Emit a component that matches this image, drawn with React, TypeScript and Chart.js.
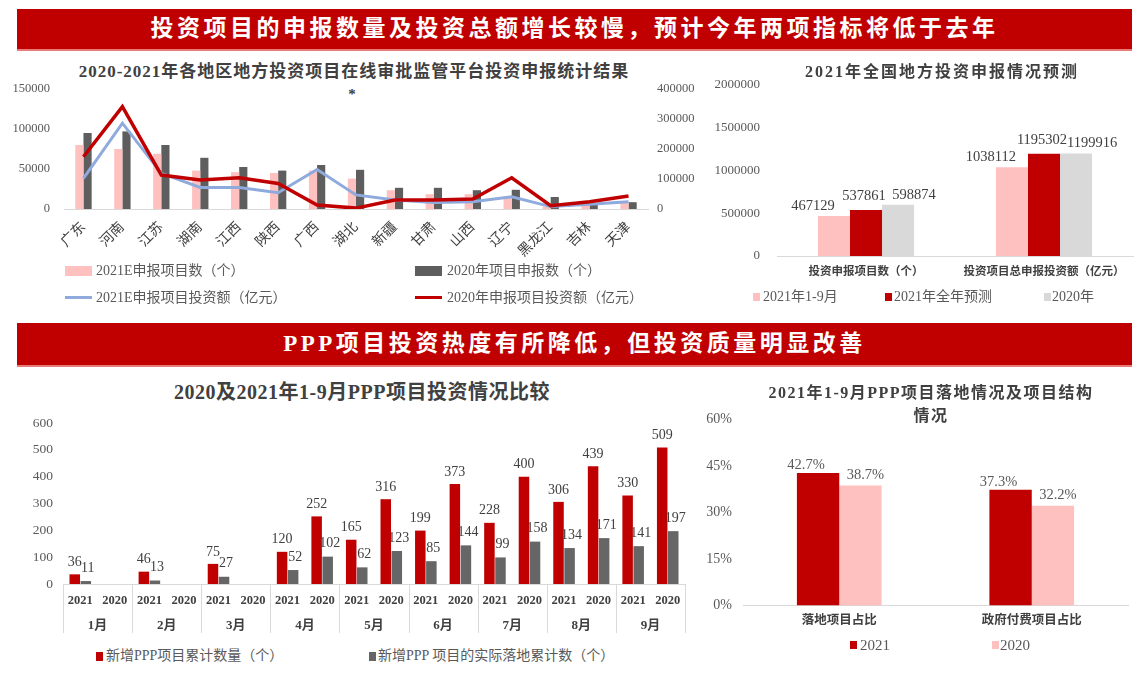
import React, { useEffect, useRef } from 'react';
import { Chart, registerables } from 'chart.js';

Chart.register(...registerables);

const FONT = "'Liberation Serif', 'DejaVu Serif', 'Noto Sans CJK SC', serif";

// ---------- Chart 1: 各地区投资申报 ----------
const REGIONS = ['广东', '河南', '江苏', '湖南', '江西', '陕西', '广西', '湖北', '新疆', '甘肃', '山西', '辽宁', '黑龙江', '吉林', '天津'];
const COUNT_2021E = [80000, 75000, 69000, 48000, 46000, 45000, 48000, 38000, 23500, 18500, 18500, 15500, 3000, 9000, 8000];
const COUNT_2020 = [95000, 97000, 80000, 64000, 52500, 48000, 55000, 49000, 26500, 26500, 23500, 24000, 15000, 6000, 8500];
const AMOUNT_2021E = [102000, 286000, 119000, 72000, 72000, 54000, 132000, 47000, 30000, 22000, 24000, 41000, 8000, 16000, 24000];
const AMOUNT_2020 = [174000, 341000, 113000, 97000, 104000, 85000, 13000, 3000, 30000, 30000, 33000, 104000, 11000, 24000, 43000];

// ---------- Chart 2: 2021年全国地方投资申报情况预测 ----------
const FORECAST_CATS = ['投资申报项目数（个）', '投资项目总申报投资额（亿元）'];
const F_2021_1_9 = [467129, 1038112];
const F_2021_FULL = [537861, 1195302];
const F_2020 = [598874, 1199916];

// ---------- Chart 3: PPP 项目投资情况比较 ----------
const MONTHS = ['1月', '2月', '3月', '4月', '5月', '6月', '7月', '8月', '9月'];
const YEAR_LABELS = ['2021', '2020'];
const PPP_NEW_2021 = [36, 46, 75, 120, 165, 199, 228, 306, 330];
const PPP_NEW_2020 = [null, null, null, 252, 316, 373, 400, 439, 509];
const PPP_LAND_2021 = [11, 13, 27, 52, 62, 85, 99, 134, 141];
const PPP_LAND_2020 = [null, null, null, 102, 123, 144, 158, 171, 197];

// ---------- Chart 4: PPP 项目落地及结构 ----------
const STRUCT_CATS = ['落地项目占比', '政府付费项目占比'];
const STRUCT_2021 = [42.7, 37.3];
const STRUCT_2020 = [38.7, 32.2];

const RED = '#C00000';
const PINK = '#FFC0C0';
const DARK = '#5E5E5E';
const LIGHT = '#D9D9D9';
const BLUE = '#8FAADC';
const TICK = '#595959';
const TEXT = '#404040';

type LabelCfg = { font: string; color: string; dx: number[]; dy: number[]; format: (v: number) => string };

function makeValueLabels(cfg: LabelCfg) {
  return {
    id: 'valueLabels',
    afterDatasetsDraw(chart: any) {
      const ctx = chart.ctx;
      ctx.save();
      ctx.font = cfg.font;
      ctx.fillStyle = cfg.color;
      ctx.textAlign = 'center';
      ctx.textBaseline = 'middle';
      chart.data.datasets.forEach((ds: any, di: number) => {
        const meta = chart.getDatasetMeta(di);
        meta.data.forEach((el: any, i: number) => {
          const v = ds.data[i];
          if (v === null || v === undefined) return;
          ctx.fillText(cfg.format(v), el.x + (cfg.dx[di] || 0), el.y - (cfg.dy[di] || 0));
        });
      });
      ctx.restore();
    },
  };
}

const monthAxisPlugin = {
  id: 'monthAxis',
  afterDraw(chart: any) {
    const xs = chart.scales.x;
    const ctx = chart.ctx;
    const step = xs.getPixelForValue(1) - xs.getPixelForValue(0);
    const top = xs.top;
    ctx.save();
    ctx.strokeStyle = '#D9D9D9';
    ctx.lineWidth = 1;
    ctx.font = `bold 13px ${FONT}`;
    ctx.fillStyle = TEXT;
    ctx.textAlign = 'center';
    ctx.textBaseline = 'middle';
    MONTHS.forEach((m, k) => {
      const a = xs.getPixelForValue(2 * k);
      const b = xs.getPixelForValue(2 * k + 1);
      const lx = Math.round(a - step / 2) + 0.5;
      ctx.beginPath();
      ctx.moveTo(lx, top);
      ctx.lineTo(lx, top + 49);
      ctx.stroke();
      ctx.fillText(m, (a + b) / 2, top + 42);
    });
    const last = Math.round(xs.getPixelForValue(2 * MONTHS.length - 1) + step / 2) + 0.5;
    ctx.beginPath();
    ctx.moveTo(last, top);
    ctx.lineTo(last, top + 49);
    ctx.stroke();
    ctx.restore();
  },
};

const noPlugins = { legend: { display: false }, tooltip: { enabled: false }, title: { display: false } };

function config1(): any {
  return {
    type: 'bar',
    data: {
      labels: REGIONS,
      datasets: [
        { type: 'line', label: '2020年申报项目投资额（亿元）', data: AMOUNT_2020, yAxisID: 'y1', borderColor: RED, borderWidth: 3.5, pointRadius: 0, tension: 0, order: 0 },
        { type: 'line', label: '2021E申报项目投资额（亿元）', data: AMOUNT_2021E, yAxisID: 'y1', borderColor: BLUE, borderWidth: 3, pointRadius: 0, tension: 0, order: 1 },
        { type: 'bar', label: '2021E申报项目数（个）', data: COUNT_2021E, yAxisID: 'y', backgroundColor: PINK, order: 2, categoryPercentage: 0.42, barPercentage: 1 },
        { type: 'bar', label: '2020年项目申报数（个）', data: COUNT_2020, yAxisID: 'y', backgroundColor: DARK, order: 2, categoryPercentage: 0.42, barPercentage: 1 },
      ],
    },
    options: {
      responsive: false,
      animation: false,
      layout: { padding: { top: 29, left: 0, right: 0, bottom: 0 } },
      plugins: noPlugins,
      scales: {
        x: {
          grid: { display: false, drawTicks: false },
          border: { display: true, color: '#D9D9D9' },
          ticks: { font: { size: 14, family: FONT }, color: TEXT, minRotation: 45, maxRotation: 45, autoSkip: false, padding: 10 },
          afterFit(s: any) { s.height = 101; },
        },
        y: {
          position: 'left', min: 0, max: 150000,
          grid: { display: false, drawTicks: false }, border: { display: false },
          ticks: { stepSize: 50000, font: { size: 12.5, family: FONT }, color: TICK, padding: 14, callback: (v: any) => String(v) },
          afterFit(s: any) { s.width = 64; },
        },
        y1: {
          position: 'right', min: 0, max: 400000,
          grid: { display: false, drawTicks: false }, border: { display: false },
          ticks: { stepSize: 100000, font: { size: 12.5, family: FONT }, color: TICK, padding: 9, callback: (v: any) => String(v) },
          afterFit(s: any) { s.width = 52; },
        },
      },
    },
  };
}

function config2(): any {
  return {
    type: 'bar',
    data: {
      labels: FORECAST_CATS,
      datasets: [
        { label: '2021年1-9月', data: F_2021_1_9, backgroundColor: PINK, categoryPercentage: 0.54, barPercentage: 1 },
        { label: '2021年全年预测', data: F_2021_FULL, backgroundColor: RED, categoryPercentage: 0.54, barPercentage: 1 },
        { label: '2020年', data: F_2020, backgroundColor: LIGHT, categoryPercentage: 0.54, barPercentage: 1 },
      ],
    },
    options: {
      responsive: false,
      animation: false,
      layout: { padding: { top: 25, left: 0, right: 8, bottom: 0 } },
      plugins: noPlugins,
      scales: {
        x: {
          grid: { display: false, drawTicks: false },
          border: { display: true, color: '#D9D9D9' },
          ticks: { font: { size: 11.5, family: FONT, weight: 'bold' }, color: TEXT, padding: 9, maxRotation: 0 },
          afterFit(s: any) { s.height = 54; },
        },
        y: {
          min: 0, max: 2000000,
          grid: { display: false, drawTicks: false }, border: { display: false },
          ticks: { stepSize: 500000, font: { size: 13, family: FONT }, color: TICK, padding: 17, callback: (v: any) => String(v) },
          afterFit(s: any) { s.width = 77; },
        },
      },
    },
    plugins: [makeValueLabels({ font: `14.5px ${FONT}`, color: TEXT, dx: [-21, -2, 16], dy: [10, 14, 10], format: (v) => String(v) })],
  };
}

function config3(): any {
  const labels: string[] = [];
  const newData: (number | null)[] = [];
  const landData: (number | null)[] = [];
  MONTHS.forEach((_, k) => {
    labels.push(YEAR_LABELS[0], YEAR_LABELS[1]);
    newData.push(PPP_NEW_2021[k], PPP_NEW_2020[k]);
    landData.push(PPP_LAND_2021[k], PPP_LAND_2020[k]);
  });
  return {
    type: 'bar',
    data: {
      labels,
      datasets: [
        { label: '新增PPP项目累计数量（个）', data: newData, backgroundColor: RED, categoryPercentage: 0.64, barPercentage: 0.95 },
        { label: '新增PPP 项目的实际落地累计数（个）', data: landData, backgroundColor: '#666666', categoryPercentage: 0.64, barPercentage: 0.95 },
      ],
    },
    options: {
      responsive: false,
      animation: false,
      layout: { padding: { top: 23, left: 0, right: 15, bottom: 0 } },
      plugins: noPlugins,
      scales: {
        x: {
          grid: { display: false, drawTicks: false },
          border: { display: true, color: '#D9D9D9' },
          ticks: { font: { size: 12.5, family: FONT, weight: 'bold' }, color: TEXT, padding: 9, maxRotation: 0, autoSkip: false },
          afterFit(s: any) { s.height = 56; },
        },
        y: {
          min: 0, max: 600,
          grid: { display: false, drawTicks: false }, border: { display: false },
          ticks: { stepSize: 100, font: { size: 13.5, family: FONT }, color: TICK, padding: 10 },
          afterFit(s: any) { s.width = 63; },
        },
      },
    },
    plugins: [
      makeValueLabels({ font: `14px ${FONT}`, color: TEXT, dx: [0, 2], dy: [12, 13], format: (v) => String(v) }),
      monthAxisPlugin,
    ],
  };
}

function config4(): any {
  return {
    type: 'bar',
    data: {
      labels: STRUCT_CATS,
      datasets: [
        { label: '2021', data: STRUCT_2021, backgroundColor: RED, categoryPercentage: 0.44, barPercentage: 1 },
        { label: '2020', data: STRUCT_2020, backgroundColor: PINK, categoryPercentage: 0.44, barPercentage: 1 },
      ],
    },
    options: {
      responsive: false,
      animation: false,
      layout: { padding: { top: 17.5, left: 0, right: 13, bottom: 0 } },
      plugins: noPlugins,
      scales: {
        x: {
          grid: { display: false, drawTicks: false },
          border: { display: true, color: '#D9D9D9' },
          ticks: { font: { size: 12.5, family: FONT, weight: 'bold' }, color: TEXT, padding: 8, maxRotation: 0 },
          afterFit(s: any) { s.height = 34.5; },
        },
        y: {
          min: 0, max: 60,
          grid: { display: false, drawTicks: false }, border: { display: false },
          ticks: { stepSize: 15, font: { size: 14, family: FONT }, color: TICK, padding: 11, callback: (v: any) => v + '%' },
          afterFit(s: any) { s.width = 43; },
        },
      },
    },
    plugins: [makeValueLabels({ font: `14.5px ${FONT}`, color: TICK, dx: [-12, 5], dy: [8, 10], format: (v) => v.toFixed(1) + '%' })],
  };
}

function ChartBox({ left, top, width, height, make }: { left: number; top: number; width: number; height: number; make: () => any }) {
  const ref = useRef<HTMLCanvasElement>(null);
  useEffect(() => {
    const chart = new Chart(ref.current as HTMLCanvasElement, make());
    return () => chart.destroy();
  }, []);
  return <canvas ref={ref} width={width} height={height} style={{ position: 'absolute', left, top, width, height }} />;
}

function Txt({ x, y, text, size, bold = false, color = TICK, center = false, spacing = 0 }: any) {
  const lh = Math.round(size * 1.4);
  const style: any = {
    position: 'absolute',
    top: y - lh / 2,
    height: lh,
    lineHeight: lh + 'px',
    fontSize: size,
    fontFamily: FONT,
    fontWeight: bold ? 'bold' : 'normal',
    color,
    whiteSpace: 'nowrap',
    letterSpacing: spacing,
  };
  if (center) {
    style.left = x - 400;
    style.width = 800;
    style.textAlign = 'center';
  } else {
    style.left = x;
  }
  return <div style={style}>{text}</div>;
}

function Swatch({ x, y, w, h, color }: any) {
  return <div style={{ position: 'absolute', left: x, top: y, width: w, height: h, background: color }} />;
}

function Banner({ top, height, text }: any) {
  return (
    <div style={{ position: 'absolute', left: 17, top, width: 1115, height, background: RED, borderBottom: '2px solid #E87A7A', boxSizing: 'border-box' }}>
      <div style={{ width: '100%', textAlign: 'center', lineHeight: height - 2 + 'px', color: '#fff', fontFamily: FONT, fontWeight: 'bold', fontSize: 23, letterSpacing: 3.5, whiteSpace: 'nowrap' }}>{text}</div>
    </div>
  );
}

export default function App() {
  return (
    <div style={{ position: 'absolute', left: 0, top: 0, width: 1141, height: 674, background: '#fff', overflow: 'hidden' }}>
      <Banner top={9} height={42} text="投资项目的申报数量及投资总额增长较慢，预计今年两项指标将低于去年" />
      <Banner top={323} height={44} text="PPP项目投资热度有所降低，但投资质量明显改善" />

      {/* Chart 1 */}
      <Txt x={354} y={72} text="2020-2021年各地区地方投资项目在线审批监管平台投资申报统计结果" size={17} bold color={TEXT} center spacing={1} />
      <Txt x={352} y={94} text="*" size={15} bold color={TEXT} center />
      <ChartBox left={0} top={60} width={700} height={250} make={config1} />
      <Swatch x={65} y={266} w={27} h={10} color={PINK} />
      <Txt x={96} y={271} text="2021E申报项目数（个）" size={14} />
      <Swatch x={415} y={266} w={27} h={10} color={DARK} />
      <Txt x={447} y={271} text="2020年项目申报数（个）" size={14} />
      <Swatch x={65} y={296} w={27} h={3} color={BLUE} />
      <Txt x={96} y={298} text="2021E申报项目投资额（亿元）" size={14} />
      <Swatch x={415} y={296} w={27} h={3} color={RED} />
      <Txt x={447} y={298} text="2020年申报项目投资额（亿元）" size={14} />

      {/* Chart 2 */}
      <Txt x={942} y={72} text="2021年全国地方投资申报情况预测" size={16} bold color={TEXT} center spacing={2} />
      <ChartBox left={700} top={60} width={441} height={250} make={config2} />
      <Swatch x={753} y={293} w={7} h={8} color={PINK} />
      <Txt x={763} y={297} text="2021年1-9月" size={14} />
      <Swatch x={885} y={293} w={7} h={8} color={RED} />
      <Txt x={894} y={297} text="2021年全年预测" size={14} />
      <Swatch x={1044} y={293} w={7} h={8} color={LIGHT} />
      <Txt x={1052} y={297} text="2020年" size={14} />

      {/* Chart 3 */}
      <Txt x={362} y={392} text="2020及2021年1-9月PPP项目投资情况比较" size={20} bold color={TEXT} center spacing={0.5} />
      <ChartBox left={0} top={400} width={700} height={240} make={config3} />
      <Swatch x={96} y={652} w={7} h={9} color={RED} />
      <Txt x={106} y={656} text="新增PPP项目累计数量（个）" size={14} />
      <Swatch x={369} y={652} w={7} h={9} color="#666666" />
      <Txt x={378} y={656} text="新增PPP 项目的实际落地累计数（个）" size={14} />

      {/* Chart 4 */}
      <Txt x={931} y={393} text="2021年1-9月PPP项目落地情况及项目结构" size={16} bold color={TEXT} center spacing={1.5} />
      <Txt x={931} y={416} text="情况" size={16} bold color={TEXT} center spacing={1.5} />
      <ChartBox left={700} top={400} width={441} height={240} make={config4} />
      <Swatch x={850} y={641} w={7} h={8} color={RED} />
      <Txt x={860} y={645} text="2021" size={15} />
      <Swatch x={992} y={641} w={7} h={8} color={PINK} />
      <Txt x={1000} y={645} text="2020" size={15} />
    </div>
  );
}
